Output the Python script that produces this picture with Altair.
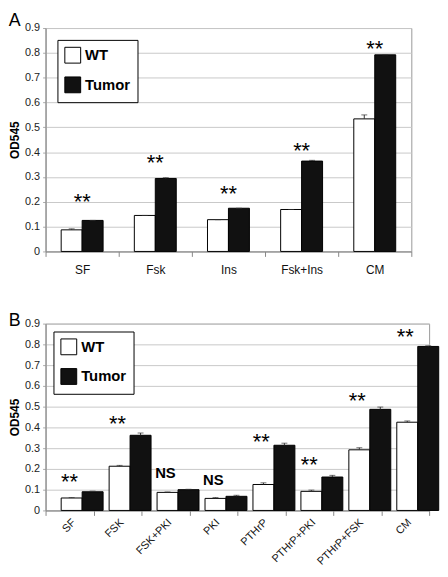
import altair as alt
import pandas as pd

FONT = "Liberation Sans"

# ---------------- Panel A data ----------------
cats_a = ["SF", "Fsk", "Ins", "Fsk+Ins", "CM"]
wt_a = [0.087, 0.145, 0.128, 0.169, 0.534]
wt_a_err = [0.004, 0.0, 0.0, 0.0, 0.016]
tumor_a = [0.125, 0.294, 0.174, 0.364, 0.792]
tumor_a_err = [0.0, 0.003, 0.0, 0.003, 0.0]
sig_a = ["**", "**", "**", "**", "**"]
sig_a_y = [0.215, 0.37, 0.245, 0.42, 0.83]

# ---------------- Panel B data ----------------
cats_b = ["SF", "FSK", "FSK+PKI", "PKI", "PTHrP", "PTHrP+PKI", "PTHrP+FSK", "CM"]
wt_b = [0.060, 0.213, 0.087, 0.058, 0.125, 0.092, 0.292, 0.425]
wt_b_err = [0.002, 0.004, 0.002, 0.004, 0.008, 0.006, 0.010, 0.006]
tumor_b = [0.090, 0.362, 0.100, 0.068, 0.314, 0.161, 0.487, 0.790]
tumor_b_err = [0.003, 0.011, 0.002, 0.005, 0.010, 0.008, 0.011, 0.003]
sig_b = ["**", "**", "NS", "NS", "**", "**", "**", "**"]
sig_b_y = [0.155, 0.434, 0.18, 0.147, 0.35, 0.237, 0.545, 0.853]

groups = ["WT", "Tumor"]
y_ticks = [0, 0.1, 0.2, 0.3, 0.4, 0.5, 0.6, 0.7, 0.8, 0.9]


def long_df(cats, wt, wt_err, tu, tu_err):
    rows = []
    for c, v, e in zip(cats, wt, wt_err):
        rows.append({"cat": c, "group": "WT", "value": v, "top": v + e})
    for c, v, e in zip(cats, tu, tu_err):
        rows.append({"cat": c, "group": "Tumor", "value": v, "top": v + e})
    return pd.DataFrame(rows)


def panel(cats, wt, wt_err, tu, tu_err, sig, sig_y, w, h, title, off_pad,
          label_angle, label_pad, label_size, legend_offset, title_offset):
    df = long_df(cats, wt, wt_err, tu, tu_err)
    sdf = pd.DataFrame({"cat": cats, "sig": sig, "y": sig_y})

    xaxis = alt.Axis(title=None, tickBand="extent", labelAngle=label_angle,
                     labelFontSize=label_size, labelColor="#111", labelPadding=label_pad,
                     domainColor="#888", tickColor="#888", tickSize=5, grid=False,
                     labelFont=FONT)
    xscale = alt.Scale(paddingInner=0, paddingOuter=0)
    x = alt.X("cat:N", sort=cats, axis=xaxis, scale=xscale)
    xo = alt.XOffset("group:N", sort=groups,
                     scale=alt.Scale(paddingInner=0, paddingOuter=off_pad))
    yscale = alt.Scale(domain=[0, 0.9], nice=False)
    yaxis = alt.Axis(values=y_ticks, title="OD545", titleFontWeight="bold",
                     titleFontSize=12, titleFont=FONT, titleColor="#000",
                     labelExpr="datum.value == 0 ? '0' : format(datum.value, '.1f')",
                     labelOverlap=False, labelFlush=False,
                     labelFontSize=11, labelFont=FONT, labelColor="#222",
                     labelPadding=3,
                     domainColor="#888", tickColor="#aaa", tickSize=3,
                     gridColor="#c8c8c8", titlePadding=3)

    def Y(field):
        return alt.Y(field, scale=yscale, axis=yaxis, title="OD545")

    color = alt.Color("group:N", sort=groups,
                      scale=alt.Scale(domain=groups, range=["#ffffff", "#111111"]),
                      legend=alt.Legend(title=None, orient="top-left", offset=legend_offset,
                                        fillColor="white", strokeColor="#000",
                                        padding=7, symbolType="square", symbolSize=256,
                                        symbolStrokeColor="#000", symbolStrokeWidth=1,
                                        labelFont=FONT, labelFontSize=15,
                                        labelFontWeight="bold", labelColor="#000",
                                        rowPadding=9, labelOffset=4))

    bars = alt.Chart(df).mark_bar(stroke="#000", strokeWidth=1).encode(
        x=x, xOffset=xo, y=Y("value:Q"), color=color)
    err = alt.Chart(df).mark_rule(color="#333", strokeWidth=1).encode(
        x=x, xOffset=xo, y=Y("value:Q"), y2="top:Q")
    cap = alt.Chart(df).mark_tick(color="#333", thickness=1, size=6,
                                  orient="horizontal").encode(
        x=x, xOffset=xo, y=Y("top:Q"))
    stars = alt.Chart(sdf[sdf["sig"] == "**"]).mark_text(
        font=FONT, fontSize=22, fontWeight="normal", color="#000",
        baseline="alphabetic", dy=11).encode(
        x=x, y=Y("y:Q"), text="sig:N")
    ns = alt.Chart(sdf[sdf["sig"] == "NS"]).mark_text(
        font=FONT, fontSize=15, fontWeight="bold", color="#000",
        baseline="middle").encode(
        x=x, y=Y("y:Q"), text="sig:N")

    layers = [bars, err, cap, stars]
    if (sdf["sig"] == "NS").any():
        layers.append(ns)
    return alt.layer(*layers).properties(
        width=w, height=h,
        title=alt.TitleParams(title, anchor="start", frame="bounds", font=FONT,
                              fontSize=18, fontWeight="normal", color="#000",
                              offset=title_offset))


pa = panel(cats_a, wt_a, wt_a_err, tumor_a, tumor_a_err, sig_a, sig_a_y,
           370, 226, "A", 0.745, 0, 8, 12, 12, -8)
pb = panel(cats_b, wt_b, wt_b_err, tumor_b, tumor_b_err, sig_b, sig_b_y,
           388, 189, "B", 0.78, 315, 1, 11, 8, -12)

chart = alt.vconcat(pa, pb, spacing=35).resolve_legend(color="independent").configure(
    padding=0, background="white"
).configure_view(stroke="#999", strokeWidth=1)

chart.save("out.html", embed_options={"renderer": "svg", "actions": False})
